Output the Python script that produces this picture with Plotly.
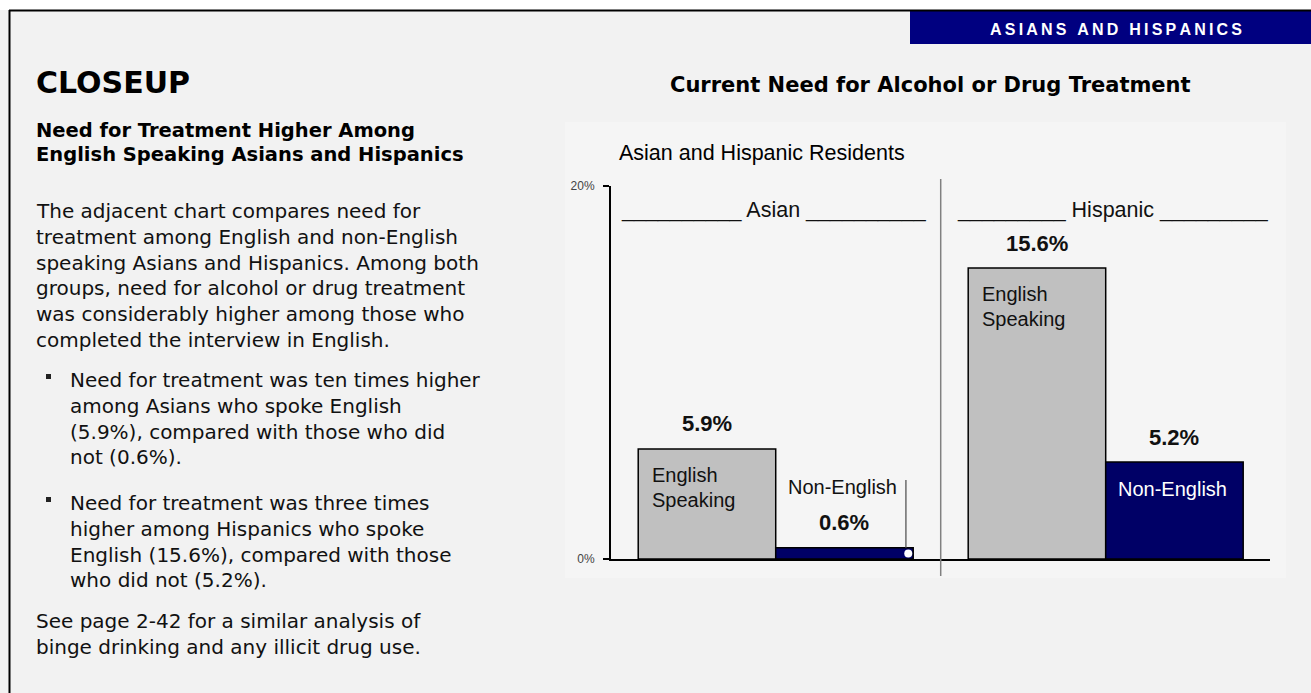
import plotly.graph_objects as go

# ---- figure geometry (pixels) ----
W, H = 1311, 693
ML, MR, MT, MB = 611, 41, 186, 134
PW = W - ML - MR
PH = H - MT - MB

# ---- data ----
groups = ["Asian", "Hispanic"]
english_pct = [5.9, 15.6]
non_english_pct = [0.6, 5.2]
y_ticks = [0, 20]
y_tick_labels = ["0%", "20%"]

# bar slots: English bar at the group position, Non-English right beside it
group_x = [0.0, 2.4]
english_x = list(group_x)
non_english_x = [g + 1 for g in group_x]

NAVY = "#000066"
BAR_GRAY = "#c0c0c0"
CHART_FONT = "Liberation Sans, Arial, sans-serif"
BODY = "DejaVu Sans, Verdana, sans-serif"


def px(x):
    return (x - ML) / PW


def py(y):
    return (H - MB - y) / PH


annotations = []
shapes = []


def text_line(x, baseline, text, size, family=BODY, bold=False, color="#111111",
              xanchor="left"):
    if bold:
        text = "<b>" + text + "</b>"
    annotations.append(dict(
        x=px(x), y=py(baseline - 0.35 * size), xref="paper", yref="paper",
        text=text, showarrow=False, xanchor=xanchor, yanchor="middle",
        font=dict(family=family, size=size, color=color),
    ))


def rect(x0, y0, x1, y1, color, layer="below"):
    shapes.append(dict(type="rect", xref="paper", yref="paper",
                       x0=px(x0), x1=px(x1), y0=py(y1), y1=py(y0),
                       fillcolor=color, line=dict(width=0), layer=layer))


def hline(x0, x1, y, color, width):
    shapes.append(dict(type="line", xref="paper", yref="paper",
                       x0=px(x0), x1=px(x1), y0=py(y), y1=py(y),
                       line=dict(color=color, width=width)))


def vline(x, y0, y1, color, width):
    shapes.append(dict(type="line", xref="paper", yref="paper",
                       x0=px(x), x1=px(x), y0=py(y0), y1=py(y1),
                       line=dict(color=color, width=width)))


# ---- page frame ----
rect(0, 0, W, 10, "white")
rect(565, 122, 1286, 578, "#f5f5f5")
rect(910, 11, W, 44, "#000080", layer="above")
hline(9, W, 10.5, "black", 2)
vline(9.5, 10, H, "black", 2)

header = "\u2009".join("ASIANS AND HISPANICS")
annotations.append(dict(
    x=px(1116), y=py(29.5), xref="paper", yref="paper", text="<b>" + header + "</b>",
    showarrow=False, xanchor="center", yanchor="middle",
    font=dict(family=CHART_FONT, size=16, color="white"),
))

# ---- left column copy ----
text_line(34, 93, "CLOSEUP", 30, bold=True, color="#000000")
heading = ["Need for Treatment Higher Among", "English Speaking Asians and Hispanics"]
for i, t in enumerate(heading):
    text_line(34, 137 + 24 * i, t, 19.5, bold=True, color="#000000")

LS = 25.8
intro = [
    "The adjacent chart compares need for",
    "treatment among English and non-English",
    "speaking Asians and Hispanics. Among both",
    "groups, need for alcohol or drug treatment",
    "was considerably higher among those who",
    "completed the interview in English.",
]
bullet_1 = [
    "Need for treatment was ten times higher",
    "among Asians who spoke English",
    "(5.9%), compared with those who did",
    "not (0.6%).",
]
bullet_2 = [
    "Need for treatment was three times",
    "higher among Hispanics who spoke",
    "English (15.6%), compared with those",
    "who did not (5.2%).",
]
closing = [
    "See page 2-42 for a similar analysis of",
    "binge drinking and any illicit drug use.",
]
for i, t in enumerate(intro):
    text_line(34, 218 + LS * i, t, 20)
for start, lines in ((387, bullet_1), (510, bullet_2)):
    rect(46, start - 13, 51, start - 8, "#222222", layer="above")
    for i, t in enumerate(lines):
        text_line(68, start + LS * i, t, 20)
for i, t in enumerate(closing):
    text_line(34, 628 + LS * i, t, 20)

# ---- chart titles ----
text_line(930.5, 92.3, "Current Need for Alcohol or Drug Treatment", 21, bold=True,
          color="#000000", xanchor="center")
annotations.append(dict(
    x=px(617), y=py(153), xref="paper", yref="paper",
    text="Asian and Hispanic Residents", showarrow=False, xanchor="left",
    yanchor="middle", font=dict(family=CHART_FONT, size=21.5, color="#000000"),
))

# ---- bars ----
fig = go.Figure()
fig.add_trace(go.Bar(
    x=english_x, y=english_pct, width=1, name="English Speaking",
    marker=dict(color=BAR_GRAY, line=dict(color="black", width=1.5)),
    hoverinfo="skip",
))
fig.add_trace(go.Bar(
    x=non_english_x, y=non_english_pct, width=1, name="Non-English",
    marker=dict(color=NAVY, line=dict(color="black", width=1.5)),
    hoverinfo="skip",
))

# value labels above every bar
for xs, vals in ((english_x, english_pct), (non_english_x, non_english_pct)):
    for x, v in zip(xs, vals):
        annotations.append(dict(
            x=x, y=v, xref="x", yref="y", text=f"<b>{v:.1f}%</b>", showarrow=False,
            xanchor="center", yanchor="middle", yshift=25,
            font=dict(family=CHART_FONT, size=22, color="#111111"),
        ))

# group headers
header_under = {"Asian": "_" * 10, "Hispanic": "_" * 9}
header_shift = {"Asian": -2, "Hispanic": 7}
for g, gx in zip(groups, group_x):
    u = header_under[g]
    annotations.append(dict(
        x=gx + 0.5, y=py(210), xref="x", yref="paper",
        text=f"{u} {g} {u}", showarrow=False, xanchor="center", yanchor="middle",
        xshift=header_shift[g], font=dict(family=CHART_FONT, size=21.5, color="#111111"),
    ))

# in-bar labels for the English speaking bars
for x, v in zip(english_x, english_pct):
    for word, drop in (("English", 26), ("Speaking", 51)):
        annotations.append(dict(
            x=x - 0.5, y=v, xref="x", yref="y", text=word, showarrow=False,
            xanchor="left", yanchor="middle", xshift=12, yshift=-drop,
            font=dict(family=CHART_FONT, size=20, color="#111111"),
        ))

# Non-English labels: outside the short Asian bar, inside the Hispanic bar
annotations.append(dict(
    x=non_english_x[0], y=py(487), xref="x", yref="paper", text="Non-English",
    showarrow=False, xanchor="center", yanchor="middle", xshift=-2,
    font=dict(family=CHART_FONT, size=20, color="#111111"),
))
annotations.append(dict(
    x=non_english_x[1], y=non_english_pct[1], xref="x", yref="y", text="Non-English",
    showarrow=False, xanchor="center", yanchor="middle", xshift=-2, yshift=-27,
    font=dict(family=CHART_FONT, size=20, color="white"),
))

# leader from the Asian Non-English label down to its bar
lead_x = non_english_x[0] + 0.447
shapes.append(dict(type="line", xref="x", yref="paper", x0=lead_x, x1=lead_x,
                   y0=py(480), y1=py(H - MB - non_english_pct[0] * PH / 20),
                   line=dict(color="#555555", width=1.3)))
fig.add_trace(go.Scatter(
    x=[non_english_x[0] + 0.464], y=[non_english_pct[0] / 2], mode="markers",
    marker=dict(color="white", size=8, line=dict(width=0)), hoverinfo="skip",
))

# divider between the two groups
div_x = (non_english_x[0] + 0.5 + english_x[1] - 0.5) / 2
shapes.append(dict(type="line", xref="x", yref="paper", x0=div_x, x1=div_x,
                   y0=py(576), y1=py(179), line=dict(color="#808080", width=1.5)))

fig.update_layout(
    width=W, height=H,
    margin=dict(l=ML, r=MR, t=MT, b=MB, pad=0),
    paper_bgcolor="#f2f2f2", plot_bgcolor="#f5f5f5",
    barmode="overlay", showlegend=False,
    annotations=annotations, shapes=shapes,
    xaxis=dict(range=[-0.698, 4.095], showline=True, linecolor="black", linewidth=2,
               showticklabels=False, ticks="", showgrid=False, zeroline=False,
               fixedrange=True),
    yaxis=dict(range=[0, 20], showline=True, linecolor="black", linewidth=2,
               tickvals=y_ticks, ticktext=y_tick_labels, ticks="outside", ticklen=6,
               tickwidth=2, tickcolor="black", ticklabelstandoff=6,
               tickfont=dict(family=CHART_FONT, size=12, color="#444444"),
               showgrid=False, zeroline=False, fixedrange=True),
)

fig.write_html("out.html", config={"displayModeBar": False})
